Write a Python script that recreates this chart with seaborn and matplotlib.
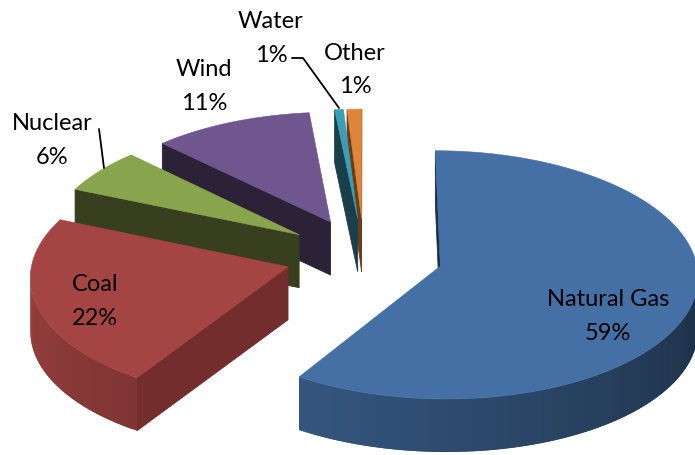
import numpy as np
import matplotlib
matplotlib.use("Agg")
import matplotlib.pyplot as plt
import seaborn as sns

# shares in percent, clockwise from 12 o'clock
sources = ["Natural Gas", "Coal", "Nuclear", "Wind", "Water", "Other"]
shares = [59.0, 22.4, 6.0, 11.0, 0.6, 1.0]
share_labels = ["59%", "22%", "6%", "11%", "1%", "1%"]

top_colors = ["#4470A5", "#A54543", "#88A44D", "#6F568E", "#3C9DB6", "#DE8539"]
face_colors = ["#1B2E47", "#722D2C", "#383F1E", "#2C2238", "#1B3F4A", "#6B3D14"]

# label centres in pixels
label_pos = [(608, 300), (95, 285), (52, 124), (204, 70), (271, 22), (355, 53)]

# pie projection
CX, CY = 364, 256.5
RX, RY = 255, 122
K = 0.07
EXPLODE = 0.31
DEPTH = 53

sns.set_theme(style="white")
plt.rcParams["font.family"] = ["Lato", "DejaVu Sans"]


def project(u, v):
    w = 1 + K * v
    return CX + RX * u / w, CY - RY * v / w


def outline(start, end):
    mid = np.radians((start + end) / 2)
    ex, ey = EXPLODE * np.sin(mid), EXPLODE * np.cos(mid)
    thetas = np.linspace(start, end, max(int(end - start), 2) + 1)
    rad = np.radians(thetas)
    xs, ys = project(ex + np.sin(rad), ey + np.cos(rad))
    ax_, ay_ = project(ex, ey)
    return ax_, ay_, thetas, xs, ys


def rim_shade(theta):
    # outer wall gets lighter towards the left
    return np.interp(theta, [90, 212, 270], [0.40, 0.77, 0.92])


def wall(ax, x0, y0, x1, y1, color, z, lw=0.6):
    ax.fill([x0, x1, x1, x0], [y0, y1, y1 + DEPTH, y0 + DEPTH],
            color=color, lw=lw, zorder=z)


def draw_slice(ax, start, end, top, face, z):
    ax_, ay_, thetas, xs, ys = outline(start, end)
    # the straight cut faces
    if xs[0] < ax_:
        wall(ax, ax_, ay_, xs[0], ys[0], face, z)
    if ax_ < xs[-1]:
        wall(ax, xs[-1], ys[-1], ax_, ay_, face, z)
    # the curved outer wall, only the part facing the viewer
    # strips overlap the next one so no seams show
    base = np.array(matplotlib.colors.to_rgb(top))
    for i in range(len(thetas) - 1):
        if xs[i + 1] < xs[i]:
            j = min(i + 2, len(thetas) - 1)
            shade = rim_shade((thetas[i] + thetas[i + 1]) / 2)
            wall(ax, xs[i], ys[i], xs[j], ys[j], tuple(base * shade), z + 0.1, lw=0)
    ax.fill(np.r_[ax_, xs], np.r_[ay_, ys], color=top, lw=0.4, zorder=z + 0.2)


fig = plt.figure(figsize=(6.95, 4.56), dpi=100)
ax = fig.add_axes([0, 0, 1, 1])
ax.set_xlim(0, 695)
ax.set_ylim(456, 0)
ax.axis("off")

edges = np.r_[0, np.cumsum(shares)] * 3.6
draw_order = {5: 1, 4: 2, 3: 3, 2: 4, 1: 5, 0: 6}
for i in range(len(shares)):
    draw_slice(ax, edges[i], edges[i + 1], top_colors[i], face_colors[i], draw_order[i])

# leader lines
ax.plot([99, 104], [130, 169], color="black", lw=1.3, zorder=8)
ax.plot([292, 303, 339], [59, 59, 109], color="black", lw=1.3, zorder=8)

for name, pct, (x, y) in zip(sources, share_labels, label_pos):
    ax.text(x, y, name, ha="center", va="center", fontsize=17, color="black", zorder=9)
    ax.text(x, y + 33.5, pct, ha="center", va="center", fontsize=17, color="black", zorder=9)

fig.savefig("out.png", dpi=100, facecolor="white")
